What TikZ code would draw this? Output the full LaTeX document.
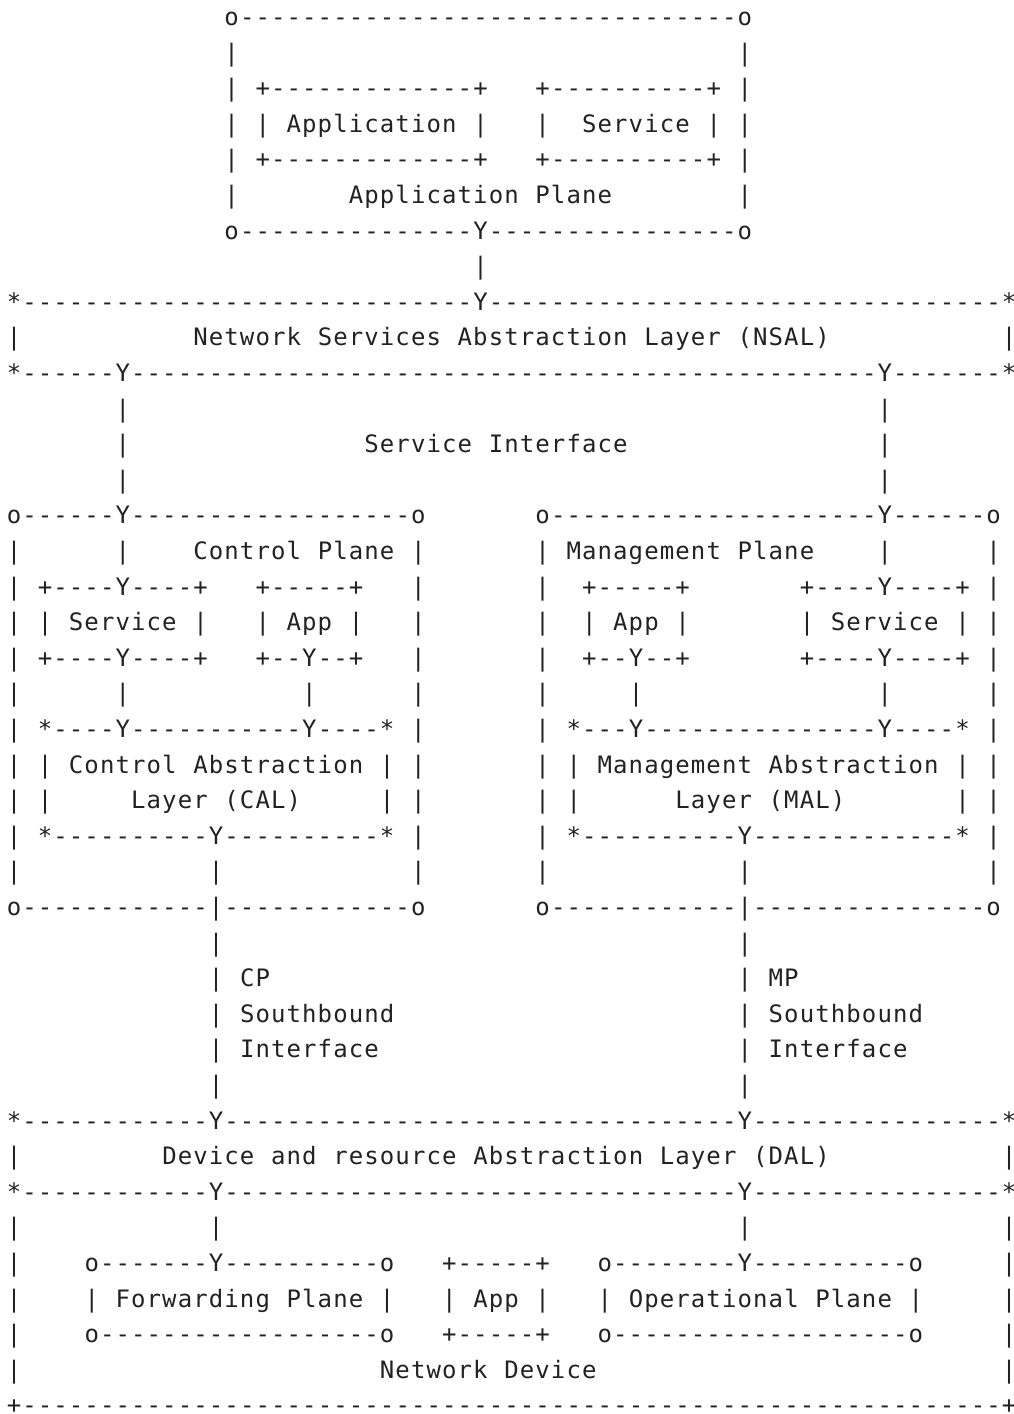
\documentclass[tikz,border=0pt]{standalone}
\usepackage{fontspec}
\setmonofont[LetterSpace=4.6]{DejaVu Sans Mono}
\ExplSyntaxOn
\cs_new_eq:NN \Rep \prg_replicate:nn
\ExplSyntaxOff
\definecolor{ink}{RGB}{34,34,34}
\tikzset{txt/.style={anchor=base west,inner sep=0pt,outer sep=0pt,text depth=0pt,text=ink,font=\ttfamily\fontsize{24}{28}\selectfont}}
\newcommand\T[3]{\node[txt] (r#1c#2) at ({6.75+15.55*#2},{25.4+35.6*#1}) {#3};}
\newcommand\D[3]{\node[txt] (r#1c#2) at ({6.75+15.55*#2},{25.4+35.6*#1}) {\Rep{#3-#2+1}{-}};}
\begin{document}
\begin{tikzpicture}[x=1pt,y=-1pt]
\fill[white] (0,0) rectangle (1014,1414);
\useasboundingbox (0,0) rectangle (1014,1414);
% Application plane
\T{0}{14}{o}\D{0}{15}{46}\T{0}{47}{o}
\T{1}{14}{|}\T{1}{47}{|}
\T{2}{14}{|}\T{2}{16}{+}\D{2}{17}{29}\T{2}{30}{+}\T{2}{34}{+}\D{2}{35}{44}\T{2}{45}{+}\T{2}{47}{|}
\T{3}{14}{|}\T{3}{16}{|}\T{3}{18}{Application}\T{3}{30}{|}\T{3}{34}{|}\T{3}{37}{Service}\T{3}{45}{|}\T{3}{47}{|}
\T{4}{14}{|}\T{4}{16}{+}\D{4}{17}{29}\T{4}{30}{+}\T{4}{34}{+}\D{4}{35}{44}\T{4}{45}{+}\T{4}{47}{|}
\T{5}{14}{|}\T{5}{22}{Application}\T{5}{34}{Plane}\T{5}{47}{|}
\T{6}{14}{o}\D{6}{15}{29}\T{6}{30}{Y}\D{6}{31}{46}\T{6}{47}{o}
\T{7}{30}{|}
% NSAL
\T{8}{0}{*}\D{8}{1}{29}\T{8}{30}{Y}\D{8}{31}{63}\T{8}{64}{*}
\T{9}{0}{|}\T{9}{12}{Network}\T{9}{20}{Services}\T{9}{29}{Abstraction}\T{9}{41}{Layer}\T{9}{47}{(NSAL)}\T{9}{64}{|}
\T{10}{0}{*}\D{10}{1}{6}\T{10}{7}{Y}\D{10}{8}{55}\T{10}{56}{Y}\D{10}{57}{63}\T{10}{64}{*}
\T{11}{7}{|}\T{11}{56}{|}
\T{12}{7}{|}\T{12}{23}{Service}\T{12}{31}{Interface}\T{12}{56}{|}
\T{13}{7}{|}\T{13}{56}{|}
% Control / Management planes
\T{14}{0}{o}\D{14}{1}{6}\T{14}{7}{Y}\D{14}{8}{25}\T{14}{26}{o}\T{14}{34}{o}\D{14}{35}{55}\T{14}{56}{Y}\D{14}{57}{62}\T{14}{63}{o}
\T{15}{0}{|}\T{15}{7}{|}\T{15}{12}{Control}\T{15}{20}{Plane}\T{15}{26}{|}\T{15}{34}{|}\T{15}{36}{Management}\T{15}{47}{Plane}\T{15}{56}{|}\T{15}{63}{|}
\T{16}{0}{|}\T{16}{2}{+}\D{16}{3}{6}\T{16}{7}{Y}\D{16}{8}{11}\T{16}{12}{+}\T{16}{16}{+}\D{16}{17}{21}\T{16}{22}{+}\T{16}{26}{|}
\T{16}{34}{|}\T{16}{37}{+}\D{16}{38}{42}\T{16}{43}{+}\T{16}{51}{+}\D{16}{52}{55}\T{16}{56}{Y}\D{16}{57}{60}\T{16}{61}{+}\T{16}{63}{|}
\T{17}{0}{|}\T{17}{2}{|}\T{17}{4}{Service}\T{17}{12}{|}\T{17}{16}{|}\T{17}{18}{App}\T{17}{22}{|}\T{17}{26}{|}
\T{17}{34}{|}\T{17}{37}{|}\T{17}{39}{App}\T{17}{43}{|}\T{17}{51}{|}\T{17}{53}{Service}\T{17}{61}{|}\T{17}{63}{|}
\T{18}{0}{|}\T{18}{2}{+}\D{18}{3}{6}\T{18}{7}{Y}\D{18}{8}{11}\T{18}{12}{+}\T{18}{16}{+}\D{18}{17}{18}\T{18}{19}{Y}\D{18}{20}{21}\T{18}{22}{+}\T{18}{26}{|}
\T{18}{34}{|}\T{18}{37}{+}\D{18}{38}{39}\T{18}{40}{Y}\D{18}{41}{42}\T{18}{43}{+}\T{18}{51}{+}\D{18}{52}{55}\T{18}{56}{Y}\D{18}{57}{60}\T{18}{61}{+}\T{18}{63}{|}
\T{19}{0}{|}\T{19}{7}{|}\T{19}{19}{|}\T{19}{26}{|}\T{19}{34}{|}\T{19}{40}{|}\T{19}{56}{|}\T{19}{63}{|}
\T{20}{0}{|}\T{20}{2}{*}\D{20}{3}{6}\T{20}{7}{Y}\D{20}{8}{18}\T{20}{19}{Y}\D{20}{20}{23}\T{20}{24}{*}\T{20}{26}{|}
\T{20}{34}{|}\T{20}{36}{*}\D{20}{37}{39}\T{20}{40}{Y}\D{20}{41}{55}\T{20}{56}{Y}\D{20}{57}{60}\T{20}{61}{*}\T{20}{63}{|}
\T{21}{0}{|}\T{21}{2}{|}\T{21}{4}{Control}\T{21}{12}{Abstraction}\T{21}{24}{|}\T{21}{26}{|}
\T{21}{34}{|}\T{21}{36}{|}\T{21}{38}{Management}\T{21}{49}{Abstraction}\T{21}{61}{|}\T{21}{63}{|}
\T{22}{0}{|}\T{22}{2}{|}\T{22}{8}{Layer}\T{22}{14}{(CAL)}\T{22}{24}{|}\T{22}{26}{|}
\T{22}{34}{|}\T{22}{36}{|}\T{22}{43}{Layer}\T{22}{49}{(MAL)}\T{22}{61}{|}\T{22}{63}{|}
\T{23}{0}{|}\T{23}{2}{*}\D{23}{3}{12}\T{23}{13}{Y}\D{23}{14}{23}\T{23}{24}{*}\T{23}{26}{|}
\T{23}{34}{|}\T{23}{36}{*}\D{23}{37}{46}\T{23}{47}{Y}\D{23}{48}{60}\T{23}{61}{*}\T{23}{63}{|}
\T{24}{0}{|}\T{24}{13}{|}\T{24}{26}{|}\T{24}{34}{|}\T{24}{47}{|}\T{24}{63}{|}
\T{25}{0}{o}\D{25}{1}{12}\T{25}{13}{|}\D{25}{14}{25}\T{25}{26}{o}\T{25}{34}{o}\D{25}{35}{46}\T{25}{47}{|}\D{25}{48}{62}\T{25}{63}{o}
% Southbound interfaces
\T{26}{13}{|}\T{26}{47}{|}
\T{27}{13}{|}\T{27}{15}{CP}\T{27}{47}{|}\T{27}{49}{MP}
\T{28}{13}{|}\T{28}{15}{Southbound}\T{28}{47}{|}\T{28}{49}{Southbound}
\T{29}{13}{|}\T{29}{15}{Interface}\T{29}{47}{|}\T{29}{49}{Interface}
\T{30}{13}{|}\T{30}{47}{|}
% DAL
\T{31}{0}{*}\D{31}{1}{12}\T{31}{13}{Y}\D{31}{14}{46}\T{31}{47}{Y}\D{31}{48}{63}\T{31}{64}{*}
\T{32}{0}{|}\T{32}{10}{Device}\T{32}{17}{and}\T{32}{21}{resource}\T{32}{30}{Abstraction}\T{32}{42}{Layer}\T{32}{48}{(DAL)}\T{32}{64}{|}
\T{33}{0}{*}\D{33}{1}{12}\T{33}{13}{Y}\D{33}{14}{46}\T{33}{47}{Y}\D{33}{48}{63}\T{33}{64}{*}
% Network device
\T{34}{0}{|}\T{34}{13}{|}\T{34}{47}{|}\T{34}{64}{|}
\T{35}{0}{|}\T{35}{5}{o}\D{35}{6}{12}\T{35}{13}{Y}\D{35}{14}{23}\T{35}{24}{o}\T{35}{28}{+}\D{35}{29}{33}\T{35}{34}{+}\T{35}{38}{o}\D{35}{39}{46}\T{35}{47}{Y}\D{35}{48}{57}\T{35}{58}{o}\T{35}{64}{|}
\T{36}{0}{|}\T{36}{5}{|}\T{36}{7}{Forwarding}\T{36}{18}{Plane}\T{36}{24}{|}\T{36}{28}{|}\T{36}{30}{App}\T{36}{34}{|}\T{36}{38}{|}\T{36}{40}{Operational}\T{36}{52}{Plane}\T{36}{58}{|}\T{36}{64}{|}
\T{37}{0}{|}\T{37}{5}{o}\D{37}{6}{23}\T{37}{24}{o}\T{37}{28}{+}\D{37}{29}{33}\T{37}{34}{+}\T{37}{38}{o}\D{37}{39}{57}\T{37}{58}{o}\T{37}{64}{|}
\T{38}{0}{|}\T{38}{24}{Network}\T{38}{32}{Device}\T{38}{64}{|}
\T{39}{0}{+}\D{39}{1}{63}\T{39}{64}{+}
\end{tikzpicture}
\end{document}
